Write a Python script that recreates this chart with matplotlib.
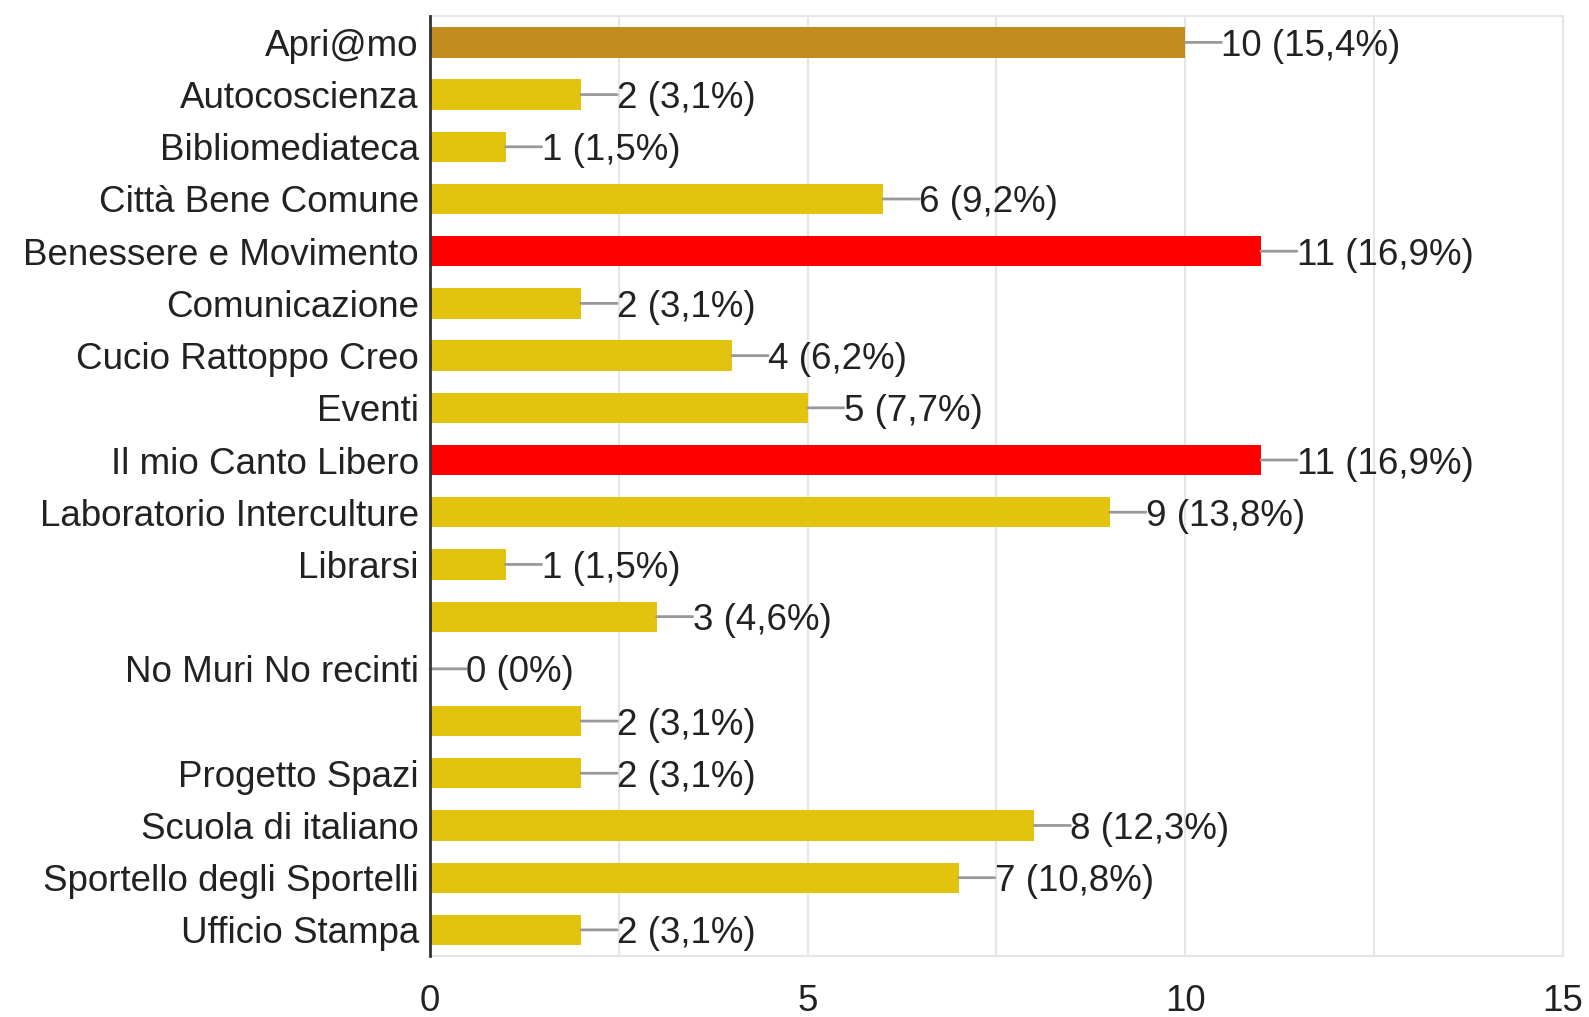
import matplotlib
matplotlib.use("Agg")
import matplotlib.pyplot as plt
import numpy as np

plt.rcParams['font.family'] = ['Liberation Sans', 'DejaVu Sans']

categories = ["Apri@mo", "Autocoscienza", "Bibliomediateca", "Città Bene Comune",
              "Benessere e Movimento", "Comunicazione", "Cucio Rattoppo Creo", "Eventi",
              "Il mio Canto Libero", "Laboratorio Interculture", "Librarsi", "",
              "No Muri No recinti", "", "Progetto Spazi", "Scuola di italiano",
              "Sportello degli Sportelli", "Ufficio Stampa"]
counts = [10, 2, 1, 6, 11, 2, 4, 5, 11, 9, 1, 3, 0, 2, 2, 8, 7, 2]
percents = ["15,4", "3,1", "1,5", "9,2", "16,9", "3,1", "6,2", "7,7", "16,9",
            "13,8", "1,5", "4,6", "0", "3,1", "3,1", "12,3", "10,8", "3,1"]
colors = ["#C18C1D", "#E2C40E", "#E2C40E", "#E2C40E", "#FF0000", "#E2C40E", "#E2C40E",
          "#E2C40E", "#FF0000", "#E2C40E", "#E2C40E", "#E2C40E", "#E2C40E", "#E2C40E",
          "#E2C40E", "#E2C40E", "#E2C40E", "#E2C40E"]

fig = plt.figure(figsize=(15.89, 10.17), dpi=100)
ax = fig.add_axes([0.2706, 0.060, 0.7130, 0.924])

y = np.arange(len(categories))
ax.barh(y, counts, height=0.58, color=colors, zorder=3)

fs = 26.5
for i, (c, p) in enumerate(zip(counts, percents)):
    ax.annotate("", xy=(c, i), xytext=(26, 0), textcoords="offset points",
                arrowprops=dict(arrowstyle="-", color="#999999", lw=2,
                                shrinkA=0, shrinkB=0), zorder=4)
    ax.annotate("%d (%s%%)" % (c, p), xy=(c, i), xytext=(26, 0),
                textcoords="offset points", va="center_baseline", ha="left",
                fontsize=fs, color="#222222", zorder=5)

ax.set_ylim(len(categories) - 0.5, -0.5)
ax.set_xlim(0, 15)
ax.set_yticks(y)
ax.set_yticklabels(categories, fontsize=fs, color="#222222", va="center_baseline")
ax.set_xticks([0, 5, 10, 15])
ax.set_xticklabels(["0", "5", "10", "15"], fontsize=fs, color="#222222")
ax.set_xticks([2.5, 7.5, 12.5], minor=True)
ax.tick_params(axis="y", length=0, pad=8)
ax.tick_params(axis="x", which="both", length=0, pad=20)
ax.grid(axis="x", which="both", color="#E6E6E6", lw=1.5, zorder=0)

for s in ["top", "right", "bottom"]:
    ax.spines[s].set_color("#E6E6E6")
    ax.spines[s].set_linewidth(1.5)
ax.spines["left"].set_color("#333333")
ax.spines["left"].set_linewidth(2)
ax.spines["left"].set_zorder(6)

fig.savefig("out.png", dpi=100)
